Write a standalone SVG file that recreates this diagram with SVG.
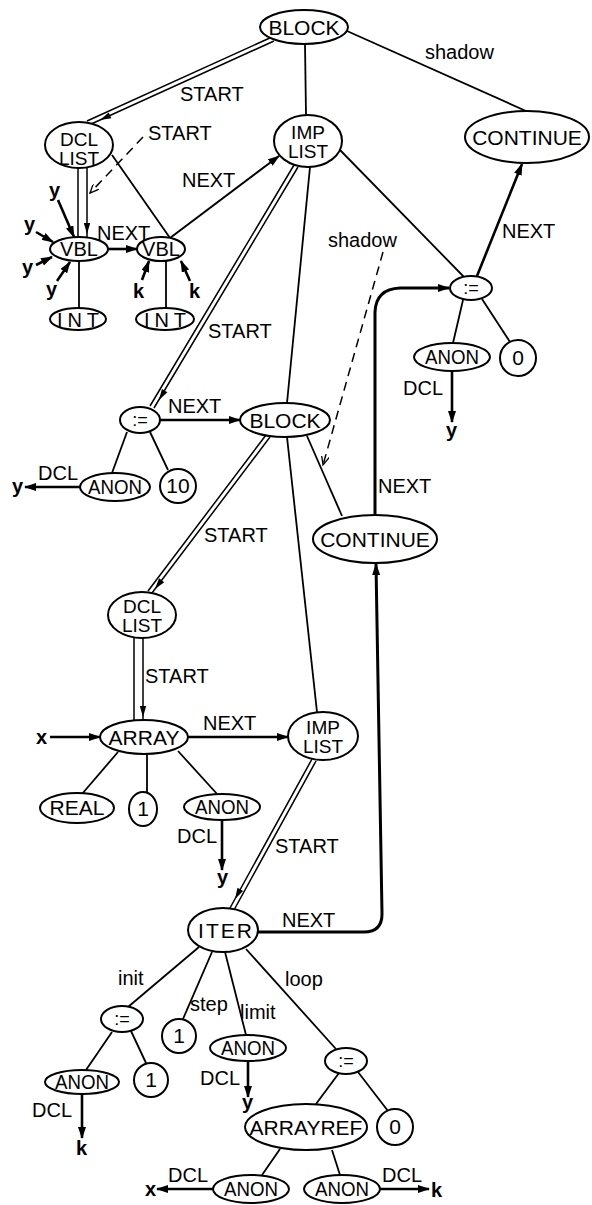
<svg xmlns="http://www.w3.org/2000/svg" xmlns:xlink="http://www.w3.org/1999/xlink" width="592" height="1205" viewBox="0 0 592 1205">
<style>
.n{fill:#fff;stroke:#000;stroke-width:2}
.t{font-family:"Liberation Sans",Arial,sans-serif;font-size:21px;text-anchor:middle;fill:#000}
.t2{font-size:19px}
.l{font-family:"Liberation Sans",Arial,sans-serif;font-size:20px;fill:#000}
.b{font-weight:bold}
.e{stroke:#000;stroke-width:1.8;fill:none}
.w{stroke:#000;stroke-width:1.5;fill:none}
.a{stroke:#000;stroke-width:2.6;fill:none;marker-end:url(#ah)}
.d{stroke:#000;stroke-width:1.5;fill:none;stroke-dasharray:9 6;marker-end:url(#oh)}
</style>
<defs>
<marker id="ah" viewBox="0 0 12 8" refX="11" refY="4" markerWidth="12" markerHeight="8" orient="auto" markerUnits="userSpaceOnUse"><path d="M0,0 L12,4 L0,8 z" fill="#000"/></marker>
<marker id="oh" viewBox="0 0 10 8" refX="9" refY="4" markerWidth="10" markerHeight="8" orient="auto" markerUnits="userSpaceOnUse"><path d="M0,0 L9,4 L0,8" fill="none" stroke="#000" stroke-width="1.3"/></marker>
<path id="hd" d="M0,0 L-11,-3.2 L-11,3.2 Z" fill="#000"/>
</defs>

<g id="connectors">
<!-- START double lines -->
<path class="w" d="M274,41 L89,125 M272,37 L87,121"/>
<use xlink:href="#hd" transform="translate(100,120) rotate(155.6)"/>
<path class="w" d="M78,168 L78,238 M87,168 L87,238"/>
<use xlink:href="#hd" transform="translate(87,234) rotate(90)"/>
<path class="w" d="M298,167 L154,408 M294,165 L150,406"/>
<use xlink:href="#hd" transform="translate(159,400) rotate(120.9)"/>
<path class="w" d="M270,437 L152,593 M266,435 L148,591"/>
<use xlink:href="#hd" transform="translate(155,589) rotate(127.1)"/>
<path class="w" d="M134,638 L134,720 M143,638 L143,720"/>
<use xlink:href="#hd" transform="translate(143,717) rotate(90)"/>
<path class="w" d="M316,761 L234,910 M312,759 L230,908"/>
<use xlink:href="#hd" transform="translate(235,899) rotate(118.8)"/>

<!-- tree edges -->
<path class="e" d="M305,44 L306,115"/>
<path class="e" d="M347,31 L526,111"/>
<path class="e" d="M112,155 L170,238"/>
<path class="e" d="M79,261 L79,308"/>
<path class="e" d="M166,261 L166,308"/>
<path class="e" d="M340,150 L464,277"/>
<path class="e" d="M310,167 L287,403"/>
<path class="e" d="M463,300 L453,343"/>
<path class="e" d="M482,299 L510,342"/>
<path class="e" d="M127,432 L112,473"/>
<path class="e" d="M150,432 L168,470"/>
<path class="e" d="M307,436 L342,516"/>
<path class="e" d="M287,437 L317,712"/>
<path class="e" d="M118,752 L82,794"/>
<path class="e" d="M147,754 L147,792"/>
<path class="e" d="M178,751 L218,795"/>
<path class="e" d="M199,947 L128,1007"/>
<path class="e" d="M212,952 L183,1019"/>
<path class="e" d="M225,952 L246,1035"/>
<path class="e" d="M246,949 L336,1049"/>
<path class="e" d="M112,1032 L86,1070"/>
<path class="e" d="M131,1031 L146,1063"/>
<path class="e" d="M339,1073 L316,1104"/>
<path class="e" d="M358,1072 L388,1111"/>
<path class="e" d="M280,1149 L262,1175"/>
<path class="e" d="M332,1150 L340,1175"/>

<!-- arrows -->
<path class="a" d="M108,249 L137,249"/>
<path class="a" style="stroke-width:2" d="M170,238 L279,156"/>
<path class="a" d="M477,276 L522,164"/>
<path class="a" d="M160,420 L240,420"/>
<path class="a" d="M188,737 L288,737"/>
<path class="a" d="M50,737 L100,737"/>
<path class="a" d="M452,371 L452,422"/>
<path class="a" d="M80,487 L25,487"/>
<path class="a" d="M222,820 L222,870"/>
<path class="a" d="M248,1061 L248,1097"/>
<path class="a" d="M82,1094 L82,1138"/>
<path class="a" d="M213,1189 L157,1189"/>
<path class="a" d="M380,1189 L429,1189"/>
<path class="a" d="M58,200 L74,237"/>
<path class="a" d="M36,232 L53,242"/>
<path class="a" d="M36,265 L52,257"/>
<path class="a" d="M57,281 L70,262"/>
<path class="a" d="M142,280 L149,261"/>
<path class="a" d="M190,281 L181,261"/>
<path class="a" style="stroke-width:3" d="M258,932 L364,932 Q382,932 382,914 L376,564"/>
<path class="a" style="stroke-width:3" d="M375,514 L375,312 Q376,289 400,288 L449,288"/>

<!-- dashed -->
<path class="d" d="M143,137 L90,193"/>
<path class="d" d="M383,252 L323,465"/>
</g>

<g id="labels">
<text class="l" x="180" y="101">START</text>
<text class="l" x="148" y="140">START</text>
<text class="l" x="97" y="240">NEXT</text>
<text class="l" x="182" y="187">NEXT</text>
<text class="l" x="425" y="59">shadow</text>
<text class="l" x="502" y="238">NEXT</text>
<text class="l" x="328" y="247">shadow</text>
<text class="l" x="208" y="338">START</text>
<text class="l" x="168" y="413">NEXT</text>
<text class="l" x="38" y="480">DCL</text>
<text class="l b" x="12" y="493">y</text>
<text class="l" x="403" y="395">DCL</text>
<text class="l b" x="446" y="437">y</text>
<text class="l" x="378" y="493">NEXT</text>
<text class="l" x="204" y="542">START</text>
<text class="l" x="145" y="683">START</text>
<text class="l b" x="36" y="744">x</text>
<text class="l" x="203" y="730">NEXT</text>
<text class="l" x="177" y="843">DCL</text>
<text class="l b" x="217" y="884">y</text>
<text class="l" x="275" y="853">START</text>
<text class="l" x="282" y="927">NEXT</text>
<text class="l" x="118" y="985">init</text>
<text class="l" x="190" y="1011">step</text>
<text class="l" x="240" y="1019">limit</text>
<text class="l" x="285" y="986">loop</text>
<text class="l" x="200" y="1085">DCL</text>
<text class="l b" x="242" y="1109">y</text>
<text class="l" x="32" y="1117">DCL</text>
<text class="l b" x="76" y="1155">k</text>
<text class="l" x="168" y="1182">DCL</text>
<text class="l b" x="145" y="1196">x</text>
<text class="l" x="382" y="1182">DCL</text>
<text class="l b" x="431" y="1197">k</text>
<text class="l b" x="49" y="197">y</text>
<text class="l b" x="24" y="231">y</text>
<text class="l b" x="22" y="274">y</text>
<text class="l b" x="46" y="296">y</text>
<text class="l b" x="133" y="298">k</text>
<text class="l b" x="189" y="298">k</text>
</g>

<g id="block1"><ellipse class="n" cx="304" cy="27" rx="44" ry="17"/><text class="t" x="304" y="35">BLOCK</text></g>
<g id="dcllist1"><ellipse class="n" cx="79" cy="145" rx="34" ry="23"/><text class="t t2" x="79" y="146">DCL</text><text class="t t2" x="79" y="165">LIST</text></g>
<g id="implist1"><ellipse class="n" cx="308" cy="141" rx="34" ry="26"/><text class="t t2" x="308" y="139">IMP</text><text class="t t2" x="308" y="158">LIST</text></g>
<g id="continue1"><ellipse class="n" cx="527" cy="137" rx="62" ry="26"/><text class="t" x="527" y="145">CONTINUE</text></g>
<g id="vbl1"><ellipse class="n" cx="79" cy="249" rx="29" ry="12"/><text class="t" x="79" y="256" style="font-size:20px">VBL</text></g>
<g id="vbl2"><ellipse class="n" cx="161" cy="249" rx="24" ry="12"/><text class="t" x="161" y="256" style="font-size:20px">VBL</text></g>
<g id="int1"><ellipse class="n" cx="78" cy="319" rx="28" ry="11"/><text class="t" x="78" y="327" textLength="42" lengthAdjust="spacing" style="font-size:20px">INT</text></g>
<g id="int2"><ellipse class="n" cx="165" cy="319" rx="29" ry="11"/><text class="t" x="165" y="327" textLength="42" lengthAdjust="spacing" style="font-size:20px">INT</text></g>
<g id="assign1"><ellipse class="n" cx="471" cy="288" rx="21" ry="12"/><text class="t" x="471" y="294" style="font-size:18px">:=</text></g>
<g id="anon1"><ellipse class="n" cx="452" cy="357" rx="38" ry="14"/><text class="t" x="452" y="364" textLength="54" lengthAdjust="spacingAndGlyphs">ANON</text></g>
<g id="zero1"><circle class="n" cx="518" cy="358" r="18"/><text class="t" x="518" y="365">0</text></g>
<g id="assign2"><ellipse class="n" cx="140" cy="420" rx="20" ry="13"/><text class="t" x="140" y="426" style="font-size:18px">:=</text></g>
<g id="block2"><ellipse class="n" cx="285" cy="420" rx="45" ry="17"/><text class="t" x="285" y="428">BLOCK</text></g>
<g id="anon2"><ellipse class="n" cx="115" cy="487" rx="35" ry="14"/><text class="t" x="115" y="494" textLength="54" lengthAdjust="spacingAndGlyphs">ANON</text></g>
<g id="ten"><ellipse class="n" cx="178" cy="486" rx="18" ry="17"/><text class="t" x="178" y="493">10</text></g>
<g id="continue2"><ellipse class="n" cx="375" cy="539" rx="62" ry="24"/><text class="t" x="375" y="547">CONTINUE</text></g>
<g id="dcllist2"><ellipse class="n" cx="142" cy="615" rx="34" ry="23"/><text class="t t2" x="142" y="613">DCL</text><text class="t t2" x="142" y="632">LIST</text></g>
<g id="array"><ellipse class="n" cx="144" cy="737" rx="44" ry="17"/><text class="t" x="144" y="745">ARRAY</text></g>
<g id="implist2"><ellipse class="n" cx="323" cy="736" rx="35" ry="24"/><text class="t t2" x="323" y="734">IMP</text><text class="t t2" x="323" y="753">LIST</text></g>
<g id="real"><ellipse class="n" cx="77" cy="808" rx="37" ry="15"/><text class="t" x="77" y="815">REAL</text></g>
<g id="one1"><ellipse class="n" cx="143" cy="809" rx="14" ry="17"/><text class="t" x="143" y="816">1</text></g>
<g id="anon3"><ellipse class="n" cx="222" cy="807" rx="38" ry="13"/><text class="t" x="222" y="814" textLength="54" lengthAdjust="spacingAndGlyphs">ANON</text></g>
<g id="iter"><ellipse class="n" cx="223" cy="930" rx="35" ry="22"/><text class="t" x="225" y="938" textLength="54" lengthAdjust="spacing">ITER</text></g>
<g id="assign3"><ellipse class="n" cx="122" cy="1019" rx="21" ry="13"/><text class="t" x="122" y="1025" style="font-size:18px">:=</text></g>
<g id="one2"><circle class="n" cx="179" cy="1036" r="17"/><text class="t" x="179" y="1043">1</text></g>
<g id="anon4"><ellipse class="n" cx="248" cy="1048" rx="38" ry="13"/><text class="t" x="248" y="1055" textLength="54" lengthAdjust="spacingAndGlyphs">ANON</text></g>
<g id="assign4"><ellipse class="n" cx="346" cy="1061" rx="21" ry="13"/><text class="t" x="346" y="1067" style="font-size:18px">:=</text></g>
<g id="anon5"><ellipse class="n" cx="82" cy="1082" rx="37" ry="12"/><text class="t" x="82" y="1089" textLength="54" lengthAdjust="spacingAndGlyphs">ANON</text></g>
<g id="one3"><circle class="n" cx="151" cy="1080" r="17"/><text class="t" x="151" y="1087">1</text></g>
<g id="arrayref"><ellipse class="n" cx="306" cy="1127" rx="61" ry="23"/><text class="t" x="306" y="1135">ARRAYREF</text></g>
<g id="zero2"><circle class="n" cx="395" cy="1127" r="18"/><text class="t" x="395" y="1134">0</text></g>
<g id="anon6"><ellipse class="n" cx="251" cy="1189" rx="38" ry="14"/><text class="t" x="251" y="1196" textLength="54" lengthAdjust="spacingAndGlyphs">ANON</text></g>
<g id="anon7"><ellipse class="n" cx="342" cy="1189" rx="38" ry="14"/><text class="t" x="342" y="1196" textLength="54" lengthAdjust="spacingAndGlyphs">ANON</text></g>
</svg>
